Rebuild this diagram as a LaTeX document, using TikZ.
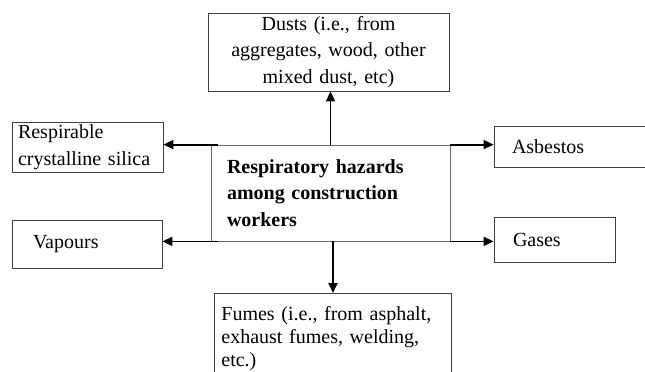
\documentclass[tikz,border=0pt]{standalone}
\usepackage{fontspec}
\setmainfont{Liberation Serif}
\usepackage{tikz}
\usetikzlibrary{arrows.meta}
\newcommand{\hazfont}{\fontsize{20}{26.5}\selectfont}

\begin{document}
\begin{tikzpicture}[x=1pt,y=-1pt,
  hazbox/.style={draw=black!75,line width=0.8pt,rectangle,font=\hazfont,align=left,inner ysep=1pt},
  hazarrow/.style={line width=1.8pt,-{Triangle[length=10pt,width=9pt]}}]
\useasboundingbox (0,0) rectangle (645,372);
\clip (0,0) rectangle (645,372);
\node[hazbox,align=center,text width=225pt,inner xsep=8pt,minimum height=78pt] (dusts) at (328.5,52) {Dusts (i.e., from\\ aggregates, wood, other\\ mixed dust, etc)};
\node[hazbox,draw=black!60,font=\hazfont\bfseries,text width=207pt,inner xsep=16pt,minimum height=96pt] (hub) at (330.5,193) {Respiratory hazards\\ among construction\\ workers};
\node[hazbox,text width=139pt,inner xsep=6pt,minimum height=50pt] (silica) at (87.5,147) {Respirable\\ crystalline silica};
\node[hazbox,text width=108pt,inner xsep=21pt,minimum height=48pt] (vapours) at (87,244) {Vapours};
\node[hazbox,text width=130pt,inner xsep=18pt,minimum height=41pt] (asbestos) at (577,146.5) {Asbestos};
\node[hazbox,text width=83pt,inner xsep=19pt,minimum height=45pt] (gases) at (554.5,239.5) {Gases};
\node[hazbox,font=\fontsize{20}{23}\selectfont,anchor=north west,text width=223pt,inner xsep=7pt,inner ysep=13.5pt] (fumes) at (214,293) {Fumes (i.e., from asphalt,\\ exhaust fumes, welding,\\ etc.)\par\vspace*{30pt}};
\draw[hazarrow] (hub.north) -- (hub.north |- dusts.south);
\draw[hazarrow] ([xshift=2.5pt]hub.south) -- ([xshift=2.5pt]hub.south |- fumes.north);
\draw[hazarrow] ([xshift=7pt]hub.north west) -- (silica.east |- hub.north west);
\draw[hazarrow] ([xshift=7pt]hub.south west) -- (vapours.east |- hub.south west);
\draw[hazarrow] (hub.north east) -- (asbestos.west |- hub.north east);
\draw[hazarrow] (hub.south east) -- (gases.west |- hub.south east);
\end{tikzpicture}
\end{document}
